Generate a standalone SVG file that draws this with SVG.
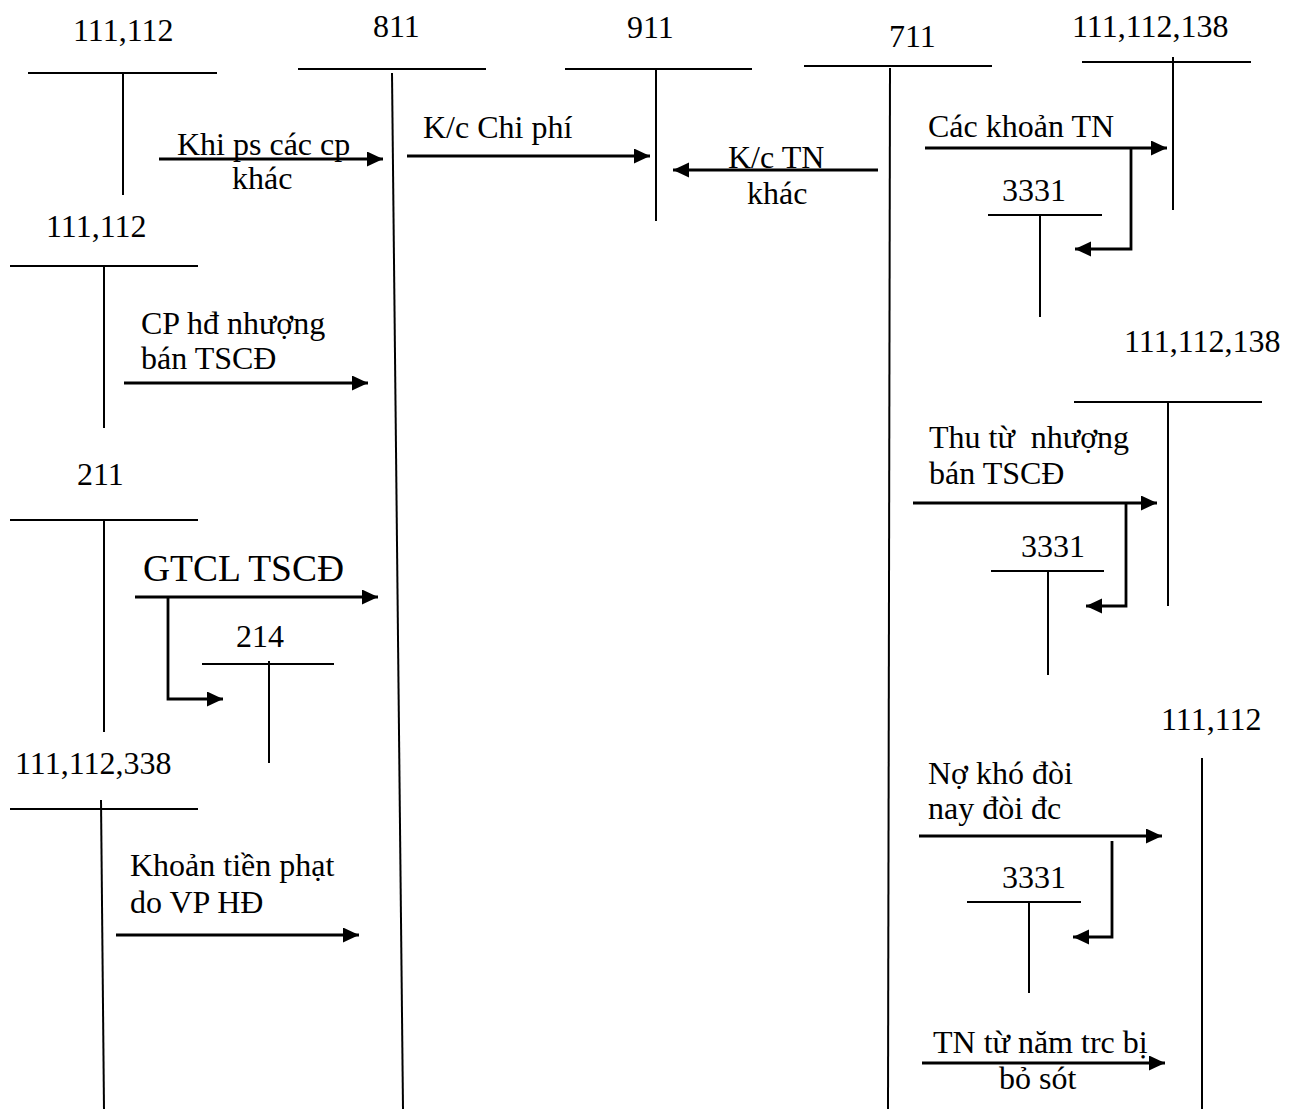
<svg xmlns="http://www.w3.org/2000/svg" width="1299" height="1109" viewBox="0 0 1299 1109">
<style>
text{font-family:"Liberation Serif","Times New Roman",serif;font-size:32px;fill:#000}
.big{font-size:37.5px}
.t{stroke:#000;stroke-width:2;fill:none}
.ar{stroke:#000;stroke-width:2.8;fill:none;marker-end:url(#ah)}
</style>
<defs>
<marker id="ah" markerUnits="userSpaceOnUse" markerWidth="18" markerHeight="16" refX="16" refY="7.5" orient="auto">
<path d="M0,0 L16,7.5 L0,15 z" fill="#000"/>
</marker>
</defs>
<rect width="1299" height="1109" fill="#fff"/>

<g id="acc-111-112-top">
<text x="73" y="41">111,112</text>
<line class="t" x1="28" y1="73" x2="217" y2="73"/>
<line class="t" x1="123" y1="73" x2="123" y2="195"/>
</g>
<g id="acc-811">
<text x="373" y="37">811</text>
<line class="t" x1="298" y1="69" x2="486" y2="69"/>
<line class="t" x1="392" y1="73" x2="403" y2="1109"/>
</g>
<g id="acc-911">
<text x="627" y="38">911</text>
<line class="t" x1="565" y1="69" x2="752" y2="69"/>
<line class="t" x1="656" y1="69" x2="656" y2="221"/>
</g>
<g id="acc-711">
<text x="889" y="47">711</text>
<line class="t" x1="804" y1="66" x2="992" y2="66"/>
<line class="t" x1="890" y1="68" x2="888" y2="1109"/>
</g>
<g id="acc-111-112-138-top">
<text x="1072" y="37">111,112,138</text>
<line class="t" x1="1082" y1="62" x2="1251" y2="62"/>
<line class="t" x1="1173" y1="57" x2="1173" y2="210"/>
</g>
<g id="acc-3331-a">
<text x="1002" y="201">3331</text>
<line class="t" x1="988" y1="215" x2="1102" y2="215"/>
<line class="t" x1="1040" y1="215" x2="1040" y2="317"/>
</g>
<g id="acc-111-112-b">
<text x="46" y="237">111,112</text>
<line class="t" x1="10" y1="266" x2="198" y2="266"/>
<line class="t" x1="104" y1="266" x2="104" y2="428"/>
</g>
<g id="acc-211">
<text x="77" y="485">211</text>
<line class="t" x1="10" y1="520" x2="198" y2="520"/>
<line class="t" x1="104" y1="520" x2="104" y2="732"/>
</g>
<g id="acc-214">
<text x="236" y="647">214</text>
<line class="t" x1="202" y1="664" x2="334" y2="664"/>
<line class="t" x1="269" y1="661" x2="269" y2="763"/>
</g>
<g id="acc-111-112-338">
<text x="15" y="774">111,112,338</text>
<line class="t" x1="10" y1="809" x2="198" y2="809"/>
<line class="t" x1="101" y1="800" x2="104" y2="1109"/>
</g>
<g id="acc-111-112-138-mid">
<text x="1124" y="352">111,112,138</text>
<line class="t" x1="1074" y1="402" x2="1262" y2="402"/>
<line class="t" x1="1168" y1="402" x2="1168" y2="606"/>
</g>
<g id="acc-3331-b">
<text x="1021" y="557">3331</text>
<line class="t" x1="991" y1="571" x2="1104" y2="571"/>
<line class="t" x1="1048" y1="571" x2="1048" y2="675"/>
</g>
<g id="acc-111-112-bottom">
<text x="1161" y="730">111,112</text>
<line class="t" x1="1202" y1="758" x2="1202" y2="1109"/>
</g>
<g id="acc-3331-c">
<text x="1002" y="888">3331</text>
<line class="t" x1="967" y1="902" x2="1081" y2="902"/>
<line class="t" x1="1029" y1="902" x2="1029" y2="993"/>
</g>

<g id="connectors">
<line class="ar" x1="159" y1="159" x2="383" y2="159"/>
<line class="ar" x1="407" y1="156" x2="650" y2="156"/>
<line class="ar" x1="878" y1="170" x2="673" y2="170"/>
<line class="ar" x1="925" y1="148" x2="1167" y2="148"/>
<polyline class="ar" points="1131,148 1131,249 1075,249"/>
<line class="ar" x1="124" y1="383" x2="368" y2="383"/>
<line class="ar" x1="135" y1="597" x2="378" y2="597"/>
<polyline class="ar" points="168,597 168,699 223,699"/>
<line class="ar" x1="116" y1="935" x2="359" y2="935"/>
<line class="ar" x1="913" y1="503" x2="1157" y2="503"/>
<polyline class="ar" points="1126,503 1126,606 1086,606"/>
<line class="ar" x1="919" y1="836" x2="1162" y2="836"/>
<polyline class="ar" points="1112,841 1112,937 1073,937"/>
<line class="ar" x1="922" y1="1063" x2="1165" y2="1063"/>
</g>

<g id="labels">
<text x="177" y="155">Khi ps các cp</text>
<text x="232" y="189">khác</text>
<text x="423" y="138">K/c Chi phí</text>
<text x="728" y="168">K/c TN</text>
<text x="747" y="204">khác</text>
<text x="928" y="137">Các khoản TN</text>
<text x="141" y="334">CP hđ nhượng</text>
<text x="141" y="369">bán TSCĐ</text>
<text class="big" x="143" y="581">GTCL TSCĐ</text>
<text x="130" y="876">Khoản tiền phạt</text>
<text x="130" y="913">do VP HĐ</text>
<text x="929" y="448" xml:space="preserve">Thu từ  nhượng</text>
<text x="929" y="484">bán TSCĐ</text>
<text x="928" y="784">Nợ khó đòi</text>
<text x="928" y="819">nay đòi đc</text>
<text x="933" y="1053">TN từ năm trc bị</text>
<text x="999" y="1089">bỏ sót</text>
</g>
</svg>
